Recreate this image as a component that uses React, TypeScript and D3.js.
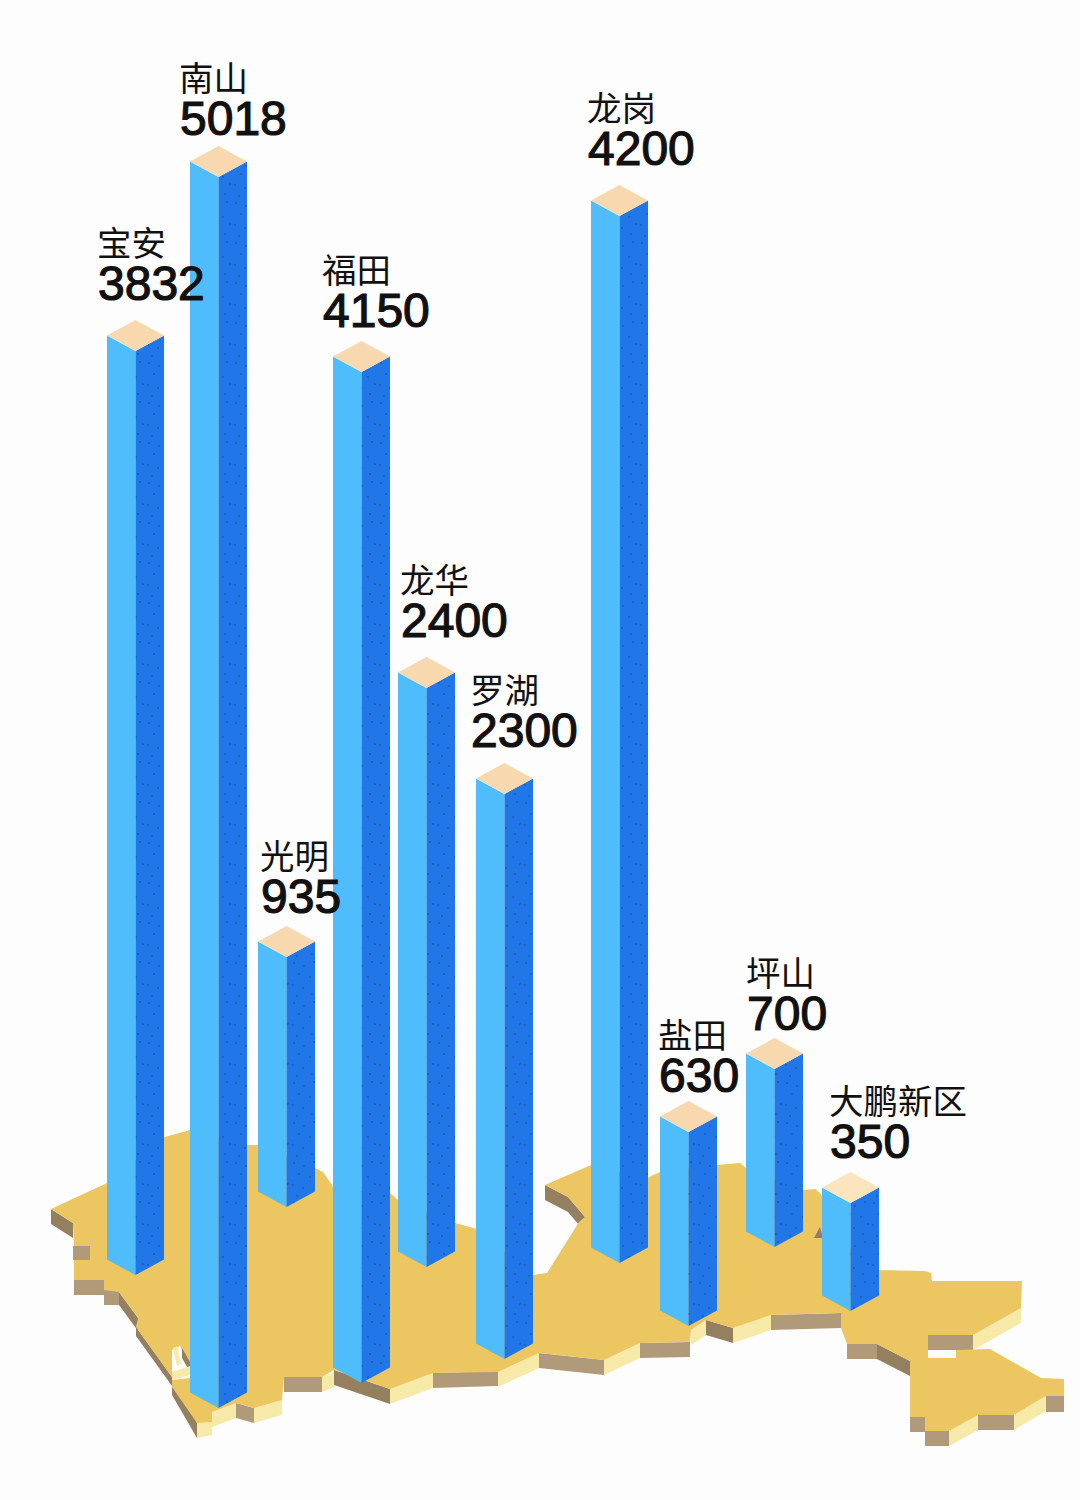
import React from "react";
import * as d3 from "d3";

// ---- data ----
const categories = ["宝安", "南山", "光明", "福田", "龙华", "罗湖", "龙岗", "盐田", "坪山", "大鹏新区"];
const values = [3832, 5018, 935, 4150, 2400, 2300, 4200, 630, 700, 350];

// The infographic is not strictly to scale: value -> drawn height stops
const valueStops = [350, 630, 700, 935, 2300, 2400, 3832, 4150, 4200, 5018];
const heightStops = [108, 194, 178, 250, 565, 579, 924, 1011, 1047, 1231];

// ---- layout (separate from the data) ----
const barLefts = [107, 190, 258, 333, 398, 476, 591, 660, 746, 822];
const barBases = [1275, 1408, 1207, 1383, 1267, 1359, 1263, 1326, 1247, 1311];
const labelXs = [98, 180, 261, 323, 401, 471, 588, 659, 747, 830];
const labelYs = [300, 135, 913, 327, 637, 747, 165, 1092, 1030, 1158];

const BAR_W = 57;
const HALF_D = 15.5;

const mapTop: [number, number][] = [
  [51, 1209], [107, 1183], [165, 1137], [190, 1130], [247, 1145], [258, 1145], [315, 1168], [323, 1172],
  [332, 1185], [333, 1188], [390, 1193], [398, 1200], [455, 1223], [477, 1229], [533, 1275], [547, 1273],
  [579, 1222], [585, 1217], [568, 1197], [545, 1185], [591, 1165], [647, 1178], [660, 1172], [717, 1165],
  [740, 1163], [746, 1168], [803, 1190], [815, 1189], [820, 1193], [860, 1265], [878, 1270], [925, 1271],
  [931, 1273], [932, 1281], [1022, 1281], [1021, 1308], [973, 1335], [928, 1335], [928, 1358], [956, 1358],
  [956, 1350], [990, 1349], [1041, 1378], [1064, 1379], [1064, 1396], [1046, 1396], [1014, 1415], [978, 1415],
  [949, 1431], [925, 1431], [925, 1417], [910, 1417], [910, 1361], [877, 1344], [847, 1344], [841, 1328],
  [841, 1313], [771, 1315], [733, 1328], [706, 1320], [691, 1330], [690, 1342], [640, 1343], [604, 1360],
  [539, 1353], [498, 1372], [433, 1373], [390, 1389], [334, 1370], [322, 1377], [284, 1377], [282, 1400],
  [254, 1408], [236, 1403], [212, 1412], [212, 1422], [197, 1423], [172, 1387], [172, 1377], [136, 1327],
  [138, 1318], [119, 1292], [104, 1290], [104, 1280], [74, 1280], [74, 1246], [73, 1223],
];

const BROWN = "#B09A79";
const DARK = "#94805F";
const BEIGE = "#F7E9A8";
// [x1, y1, x2, y2, colour, drop]
const mapWalls: [number, number, number, number, string, number][] = [
  [51, 1209, 73, 1223, DARK, 15],
  [74, 1280, 104, 1280, BROWN, 15],
  [104, 1290, 119, 1290, BROWN, 15],
  [119, 1292, 138, 1318, DARK, 13],
  [136, 1327, 172, 1377, DARK, 9],
  [172, 1380, 197, 1423, DARK, 15],
  [197, 1423, 212, 1420, BEIGE, 15],
  [212, 1412, 236, 1403, BEIGE, 15],
  [236, 1403, 254, 1408, BROWN, 15],
  [254, 1408, 282, 1400, BEIGE, 15],
  [284, 1377, 322, 1377, BROWN, 15],
  [322, 1377, 334, 1372, BEIGE, 15],
  [334, 1370, 390, 1389, DARK, 15],
  [390, 1389, 433, 1373, BEIGE, 15],
  [433, 1373, 498, 1371, BROWN, 15],
  [498, 1372, 539, 1353, BEIGE, 15],
  [539, 1353, 604, 1360, BROWN, 15],
  [604, 1360, 640, 1343, BEIGE, 15],
  [640, 1343, 690, 1342, BROWN, 15],
  [691, 1330, 706, 1320, BEIGE, 15],
  [706, 1320, 733, 1328, DARK, 15],
  [733, 1328, 771, 1315, BEIGE, 15],
  [771, 1315, 841, 1313, BROWN, 15],
  [841, 1328, 847, 1344, DARK, 0],
  [847, 1344, 877, 1344, BROWN, 15],
  [877, 1344, 910, 1361, DARK, 15],
  [910, 1417, 925, 1417, BROWN, 15],
  [925, 1431, 949, 1431, BROWN, 15],
  [949, 1431, 978, 1415, BEIGE, 15],
  [978, 1415, 1014, 1415, BROWN, 15],
  [1014, 1415, 1046, 1396, BEIGE, 15],
  [1046, 1396, 1064, 1396, BROWN, 16],
  [973, 1335, 1021, 1308, BEIGE, 15],
  [928, 1335, 973, 1335, BROWN, 15],
  [545, 1185, 568, 1197, DARK, 15],
  [568, 1197, 585, 1217, DARK, 15],
];

const leftScale = d3.scaleOrdinal<string, number>().domain(categories).range(barLefts);
const baseScale = d3.scaleOrdinal<string, number>().domain(categories).range(barBases);
const heightScale = d3.scaleLinear().domain(valueStops).range(heightStops);
const line = d3.line().curve(d3.curveLinearClosed);

export default function App() {
  return (
    <svg width={1080} height={1500} viewBox="0 0 1080 1500"
      style={{ position: "absolute", left: 0, top: 0, background: "#FEFDFE" }}>
      <defs>
        <pattern id="speck" width="29" height="40" patternUnits="userSpaceOnUse">
          <rect width="29" height="40" fill="#2176E8" />
          <g fill="#104A98">
            <circle cx="4" cy="3" r="0.8" /><circle cx="14" cy="6" r="0.8" /><circle cx="24" cy="2" r="0.8" />
            <circle cx="9" cy="14" r="0.8" /><circle cx="20" cy="17" r="0.8" /><circle cx="27" cy="24" r="0.8" />
            <circle cx="3" cy="25" r="0.8" /><circle cx="13" cy="28" r="0.8" /><circle cx="22" cy="34" r="0.8" />
            <circle cx="7" cy="36" r="0.8" />
          </g>
        </pattern>
      </defs>

      {/* map slab */}
      {mapWalls.map(([x1, y1, x2, y2, c, h], i) => (
        <path key={i} fill={c} d={line([[x1, y1], [x2, y2], [x2, y2 + h], [x1, y1 + h]]) ?? ""} />
      ))}
      <path d={line(mapTop) ?? ""} fill="#ECC660" />
      {/* patches on the slab */}
      <path d={line([[73, 1246], [90, 1246], [90, 1260], [73, 1260]]) ?? ""} fill={BROWN} />
      <path d={line([[172, 1350], [180, 1346], [190, 1367], [190, 1378], [172, 1380]]) ?? ""} fill="#FEFDFE" />
      <path d={line([[182, 1348], [190, 1362], [190, 1372], [182, 1358]]) ?? ""} fill={DARK} />
      <path d={line([[173, 1348], [177, 1346], [181, 1364], [177, 1366]]) ?? ""} fill={BEIGE} />
      <path d={line([[172, 1372], [190, 1366], [190, 1375], [172, 1380]]) ?? ""} fill={BEIGE} />
      <path d={line([[820, 1227], [814, 1238], [823, 1238]]) ?? ""} fill={DARK} />

      {/* bars */}
      {categories.map((name, i) => {
        const L = leftScale(name);
        const cx = L + BAR_W / 2;
        const R = L + BAR_W;
        const base = baseScale(name);
        const top = base - heightScale(values[i]);
        const topFill = name === "大鹏新区" ? "#FBE4BE" : "#F8D8AE";
        return (
          <g key={name}>
            <path fill="#4FBDFB" d={line([[L, top - HALF_D], [cx, top], [cx, base], [L, base - HALF_D]]) ?? ""} />
            <path fill="url(#speck)" d={line([[cx, top], [R, top - HALF_D], [R, base - HALF_D], [cx, base]]) ?? ""} />
            <path fill={topFill} d={line([[L, top - HALF_D], [cx, top - 2 * HALF_D], [R, top - HALF_D], [cx, top]]) ?? ""} />
          </g>
        );
      })}

      {/* labels */}
      {categories.map((name, i) => (
        <g key={name} fill="#111111">
          <text x={labelXs[i] - 1} y={labelYs[i] - 44} fontFamily="'Noto Sans CJK SC', sans-serif" fontSize={34.5} fontWeight={400}>
            {name}
          </text>
          <text x={labelXs[i]} y={labelYs[i]} fontFamily="'Liberation Sans', Arial, sans-serif" fontSize={48}
            stroke="#111111" strokeWidth={1.2}>
            {values[i]}
          </text>
        </g>
      ))}
    </svg>
  );
}
